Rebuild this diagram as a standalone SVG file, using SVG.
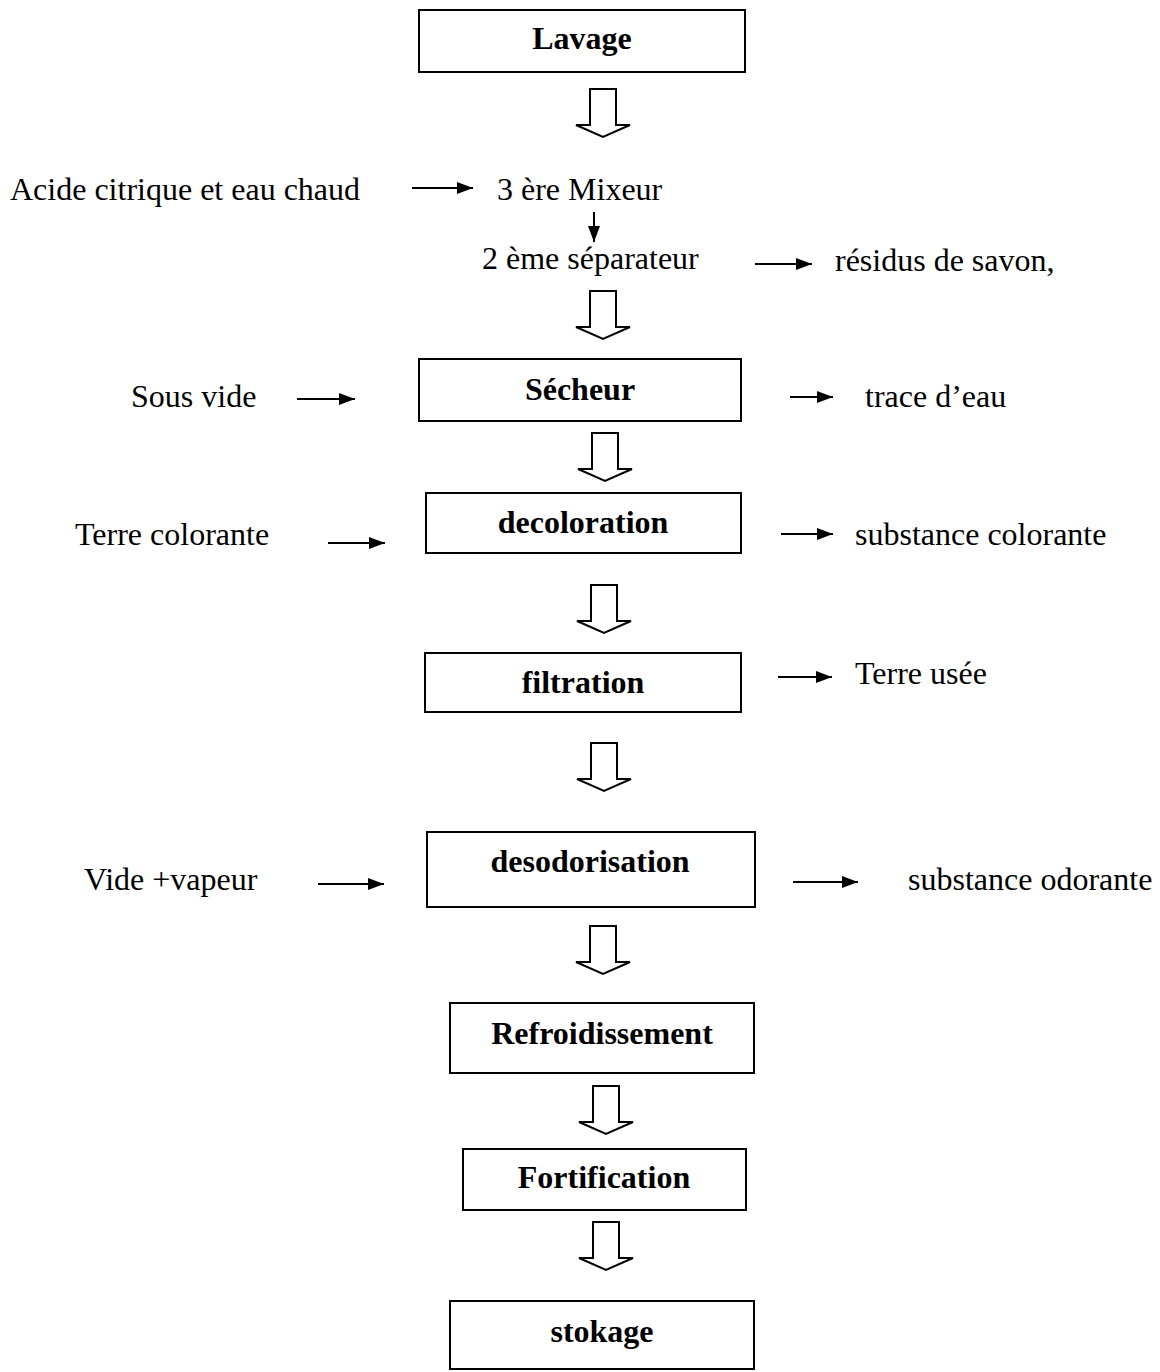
<svg xmlns="http://www.w3.org/2000/svg" xmlns:xlink="http://www.w3.org/1999/xlink" width="1160" height="1372" viewBox="0 0 1160 1372">
  <style>
    .box { fill: #fff; stroke: #000; stroke-width: 2; }
    .bt { font-family: "Liberation Serif", "Times New Roman", serif; font-size: 32px; font-weight: bold; text-anchor: middle; fill: #000; }
    .t { font-family: "Liberation Serif", "Times New Roman", serif; font-size: 32px; fill: #000; }
    .ln { stroke: #000; stroke-width: 2; fill: none; marker-end: url(#ah); }
    .hollow { fill: #fff; stroke: #000; stroke-width: 2; stroke-linejoin: miter; }
  </style>
  <defs>
    <marker id="ah" markerWidth="16" markerHeight="12" refX="16" refY="6" orient="auto" markerUnits="userSpaceOnUse">
      <path d="M0,0 L16,6 L0,12 z" fill="#000"/>
    </marker>
    <path id="harrow" d="M-13,0 H13 V36 H27 L0,48 L-27,36 H-13 Z"/>
  </defs>
  <rect width="1160" height="1372" fill="#fff"/>

  <g id="lavage"><rect class="box" x="419" y="10" width="326" height="62"/><text class="bt" x="582" y="49">Lavage</text></g>
  <g id="mixeur"><text class="t" x="497" y="200">3 ère Mixeur</text></g>
  <g id="separateur"><text class="t" x="482" y="269">2 ème séparateur</text></g>
  <g id="acide"><text class="t" x="10" y="200">Acide citrique et eau chaud</text></g>
  <g id="residus"><text class="t" x="835" y="271">résidus de savon,</text></g>

  <g id="secheur"><rect class="box" x="419" y="359" width="322" height="62"/><text class="bt" x="580" y="400">Sécheur</text></g>
  <g id="sousvide"><text class="t" x="131" y="407">Sous vide</text></g>
  <g id="trace"><text class="t" x="865" y="407">trace d’eau</text></g>

  <g id="decoloration"><rect class="box" x="426" y="493" width="315" height="60"/><text class="bt" x="583" y="533">decoloration</text></g>
  <g id="terrecol"><text class="t" x="75" y="545">Terre colorante</text></g>
  <g id="substcol"><text class="t" x="855" y="545">substance colorante</text></g>

  <g id="filtration"><rect class="box" x="425" y="653" width="316" height="59"/><text class="bt" x="583" y="693">filtration</text></g>
  <g id="terreusee"><text class="t" x="855" y="684">Terre usée</text></g>

  <g id="desodorisation"><rect class="box" x="427" y="832" width="328" height="75"/><text class="bt" x="590" y="872">desodorisation</text></g>
  <g id="vide"><text class="t" x="84" y="890">Vide +vapeur</text></g>
  <g id="substodo"><text class="t" x="908" y="890">substance odorante</text></g>

  <g id="refroid"><rect class="box" x="450" y="1003" width="304" height="70"/><text class="bt" x="602" y="1044">Refroidissement</text></g>
  <g id="fortif"><rect class="box" x="463" y="1149" width="283" height="61"/><text class="bt" x="604" y="1188">Fortification</text></g>
  <g id="stokage"><rect class="box" x="450" y="1301" width="304" height="68"/><text class="bt" x="602" y="1342">stokage</text></g>

  <g id="connectors">
    <use href="#harrow" xlink:href="#harrow" class="hollow" transform="translate(603,89)"/>
    <use href="#harrow" xlink:href="#harrow" class="hollow" transform="translate(603,291)"/>
    <use href="#harrow" xlink:href="#harrow" class="hollow" transform="translate(605,433)"/>
    <use href="#harrow" xlink:href="#harrow" class="hollow" transform="translate(604,585)"/>
    <use href="#harrow" xlink:href="#harrow" class="hollow" transform="translate(604,743)"/>
    <use href="#harrow" xlink:href="#harrow" class="hollow" transform="translate(603,926)"/>
    <use href="#harrow" xlink:href="#harrow" class="hollow" transform="translate(606,1086)"/>
    <use href="#harrow" xlink:href="#harrow" class="hollow" transform="translate(606,1222)"/>

    <line class="ln" x1="412" y1="188" x2="473" y2="188"/>
    <line class="ln" x1="594" y1="212" x2="594" y2="242"/>
    <line class="ln" x1="755" y1="264" x2="812" y2="264"/>
    <line class="ln" x1="297" y1="399" x2="355" y2="399"/>
    <line class="ln" x1="790" y1="397" x2="833" y2="397"/>
    <line class="ln" x1="328" y1="543" x2="385" y2="543"/>
    <line class="ln" x1="781" y1="534" x2="833" y2="534"/>
    <line class="ln" x1="778" y1="677" x2="832" y2="677"/>
    <line class="ln" x1="318" y1="884" x2="384" y2="884"/>
    <line class="ln" x1="793" y1="882" x2="858" y2="882"/>
  </g>
</svg>
